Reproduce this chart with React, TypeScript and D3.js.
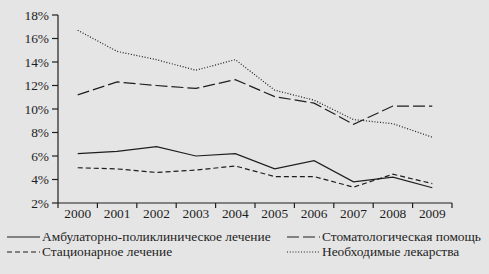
import React from "react";
import * as d3 from "d3";

const years = ["2000","2001","2002","2003","2004","2005","2006","2007","2008","2009"];
const ambulatory = [6.2, 6.4, 6.8, 6.0, 6.2, 4.9, 5.6, 3.8, 4.2, 3.3];
const dental = [11.2, 12.3, 12.0, 11.75, 12.5, 11.05, 10.5, 8.7, 10.25, 10.25];
const inpatient = [5.0, 4.9, 4.6, 4.8, 5.15, 4.25, 4.25, 3.35, 4.45, 3.65];
const medicines = [16.7, 14.9, 14.2, 13.3, 14.2, 11.6, 10.75, 9.1, 8.75, 7.6];
const yTicks = [2, 4, 6, 8, 10, 12, 14, 16, 18];

const W = 489, H = 274;
const left = 58, right = 452, top = 15, bottom = 203;
const ink = "#1e1e1e";
const font = "'Liberation Serif', 'Times New Roman', serif";
const fs = 13.4;

export default function App() {
  const x = d3.scaleBand<string>().domain(years).range([left, right]);
  const y = d3.scaleLinear().domain([2, 18]).range([bottom, top]);
  const line = d3.line<number>()
    .x((_, i) => (x(years[i]) as number) + x.bandwidth() / 2)
    .y((d) => y(d));

  const series = [
    { data: ambulatory, dash: "none" },
    { data: dental, dash: "12,4" },
    { data: inpatient, dash: "5,3" },
    { data: medicines, dash: "1,1.8" },
  ];

  const boundaries = [...years.map((yr) => x(yr) as number), right];

  const legend = [
    { label: "Амбулаторно-поликлиническое лечение", dash: "none", lx: 7, tx: 42, ly: 237 },
    { label: "Стоматологическая помощь", dash: "12,4", lx: 287, tx: 322, ly: 237 },
    { label: "Стационарное лечение", dash: "5,3", lx: 7, tx: 42, ly: 252 },
    { label: "Необходимые лекарства", dash: "1,1.8", lx: 287, tx: 322, ly: 252 },
  ];

  return (
    <svg width={W} height={H} style={{ position: "absolute", left: 0, top: 0, background: "#e5e5e5" }}
      fontFamily={font}>
      <rect x={0} y={0} width={W} height={H} fill="#e5e5e5" />
      <line x1={left} x2={left} y1={top} y2={bottom} stroke={ink} strokeWidth={1.2} />
      {yTicks.map((t) => (
        <g key={t}>
          <line x1={left - 6} x2={left} y1={y(t)} y2={y(t)} stroke={ink} strokeWidth={1.2} />
          <text x={49} y={y(t)} dy="0.35em" textAnchor="end" fontSize={fs} fill={ink}>{t}%</text>
        </g>
      ))}
      <line x1={left} x2={right} y1={bottom} y2={bottom} stroke={ink} strokeWidth={1.2} />
      {boundaries.map((b, i) => (
        <line key={i} x1={b} x2={b} y1={bottom} y2={bottom + 5} stroke={ink} strokeWidth={1.2} />
      ))}
      {years.map((yr) => (
        <text key={yr} x={(x(yr) as number) + x.bandwidth() / 2} y={213} dy="0.35em"
          textAnchor="middle" fontSize={fs} fill={ink}>{yr}</text>
      ))}
      {series.map((s, i) => (
        <path key={i} d={line(s.data) || ""} fill="none" stroke={ink} strokeWidth={1.2}
          strokeDasharray={s.dash} />
      ))}
      {legend.map((l, i) => (
        <g key={i}>
          <line x1={l.lx} x2={l.lx + 33} y1={l.ly} y2={l.ly} stroke={ink} strokeWidth={1.2}
            strokeDasharray={l.dash} />
          <text x={l.tx} y={l.ly} dy="0.3em" fontSize={fs} fill={ink}>{l.label}</text>
        </g>
      ))}
    </svg>
  );
}
